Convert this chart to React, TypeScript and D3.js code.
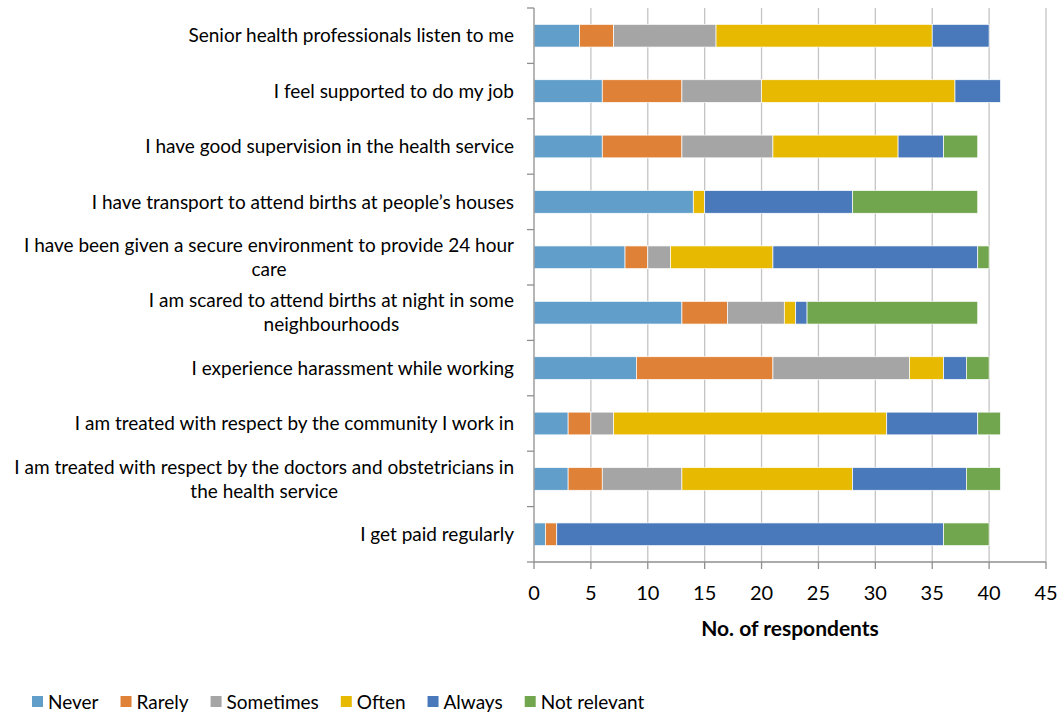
import React, { useEffect, useRef } from "react";
import * as d3 from "d3";

// "\n" marks where the label wraps in the original chart
const categories = [
  "Senior health professionals listen to me",
  "I feel supported to do my job",
  "I have good supervision in the health service",
  "I have transport to attend births at people’s houses",
  "I have been given a secure environment to provide 24 hour\ncare",
  "I am scared to attend births at night in some\nneighbourhoods",
  "I experience harassment while working",
  "I am treated with respect by the community I work in",
  "I am treated with respect by the doctors and obstetricians in\nthe health service",
  "I get paid regularly",
];
const seriesNames = ["Never", "Rarely", "Sometimes", "Often", "Always", "Not relevant"];
const never = [4, 6, 6, 14, 8, 13, 9, 3, 3, 1];
const rarely = [3, 7, 7, 0, 2, 4, 12, 2, 3, 1];
const sometimes = [9, 7, 8, 0, 2, 5, 12, 2, 7, 0];
const often = [19, 17, 11, 1, 9, 1, 3, 24, 15, 0];
const always = [5, 4, 4, 13, 18, 1, 2, 8, 10, 34];
const notRelevant = [0, 0, 3, 11, 1, 15, 2, 2, 3, 4];
const xTicks = [0, 5, 10, 15, 20, 25, 30, 35, 40, 45];
const colors = ["#619ECA", "#DF8237", "#A5A5A5", "#E7B900", "#4979BB", "#72A64E"];
const xTitle = "No. of respondents";

const FONT = "Lato, 'Open Sans', sans-serif";

export default function App() {
  const ref = useRef<SVGSVGElement | null>(null);

  useEffect(() => {
    const svg = d3.select(ref.current);
    svg.selectAll("*").remove();

    const x = d3.scaleLinear().domain([0, 45]).range([534, 1046]);
    const y = d3
      .scaleBand<string>()
      .domain(categories)
      .range([8, 562])
      .paddingInner(0.59)
      .paddingOuter(0.295);

    const values = [never, rarely, sometimes, often, always, notRelevant];
    const rows = categories.map((c, i) => {
      const o: any = { cat: c };
      seriesNames.forEach((s, j) => (o[s] = values[j][i]));
      return o;
    });
    const stacked = d3.stack<any>().keys(seriesNames)(rows);

    const g = svg.append("g");
    g.selectAll("line.grid")
      .data(xTicks.slice(1))
      .join("line")
      .attr("x1", (d) => x(d))
      .attr("x2", (d) => x(d))
      .attr("y1", 8)
      .attr("y2", 562)
      .attr("stroke", "#c4c4c4")
      .attr("stroke-width", 1.3);

    stacked.forEach((layer, j) => {
      g.append("g")
        .selectAll("rect")
        .data(layer)
        .join("rect")
        .attr("x", (d) => x(d[0]))
        .attr("width", (d) => Math.max(0, x(d[1]) - x(d[0])))
        .attr("y", (d) => y(d.data.cat)!)
        .attr("height", y.bandwidth())
        .attr("fill", colors[j])
        .attr("stroke", (d) => (d[1] - d[0] > 0 ? "#ffffff" : "none"))
        .attr("stroke-width", 0.7);
    });

    const axisColor = "#8f8f8f";
    g.append("line")
      .attr("x1", x(0)).attr("x2", x(0))
      .attr("y1", 8).attr("y2", 562)
      .attr("stroke", axisColor).attr("stroke-width", 1.3);
    g.append("line")
      .attr("x1", x(0)).attr("x2", x(45))
      .attr("y1", 562).attr("y2", 562)
      .attr("stroke", axisColor).attr("stroke-width", 1.3);

    const step = y.step();
    const bounds = d3.range(categories.length + 1).map((i) => 8 + i * step);
    g.selectAll("line.ytick")
      .data(bounds)
      .join("line")
      .attr("x1", x(0) - 7).attr("x2", x(0))
      .attr("y1", (d) => d).attr("y2", (d) => d)
      .attr("stroke", axisColor).attr("stroke-width", 1.3);

    g.selectAll("line.xtick")
      .data(xTicks)
      .join("line")
      .attr("x1", (d) => x(d)).attr("x2", (d) => x(d))
      .attr("y1", 562).attr("y2", 569)
      .attr("stroke", axisColor).attr("stroke-width", 1.3);

    g.selectAll("text.xl")
      .data(xTicks)
      .join("text")
      .attr("x", (d) => x(d))
      .attr("y", 600)
      .attr("text-anchor", "middle")
      .attr("font-family", FONT)
      .attr("font-size", 20)
      .attr("fill", "#000")
      .text((d) => String(d));

    g.append("text")
      .attr("x", (x(0) + x(45)) / 2)
      .attr("y", 636)
      .attr("text-anchor", "middle")
      .attr("font-family", FONT)
      .attr("font-size", 21)
      .attr("font-weight", "bold")
      .attr("fill", "#000")
      .text(xTitle);

    const labelRight = 514;
    const lineH = 24;
    categories.forEach((c) => {
      const lines = c.split("\n");
      const t = g.append("text")
        .attr("font-family", FONT)
        .attr("font-size", 19)
        .attr("fill", "#000");
      const meas = t.append("tspan").text(lines[0]);
      const w0 = (meas.node() as SVGTextContentElement).getComputedTextLength();
      meas.remove();
      const cy = y(c)! + y.bandwidth() / 2;
      const cx = labelRight - w0 / 2;
      const n = lines.length;
      lines.forEach((ln, k) => {
        t.append("tspan")
          .attr("x", cx)
          .attr("text-anchor", "middle")
          .attr("y", cy + (k - (n - 1) / 2) * lineH)
          .attr("dy", "0.35em")
          .text(ln);
      });
    });

    let lx = 32;
    const ly = 702;
    seriesNames.forEach((s, j) => {
      g.append("rect")
        .attr("x", lx)
        .attr("y", ly - 6)
        .attr("width", 11)
        .attr("height", 11)
        .attr("fill", colors[j]);
      const t = g.append("text")
        .attr("x", lx + 16)
        .attr("y", ly)
        .attr("dy", "0.35em")
        .attr("font-family", FONT)
        .attr("font-size", 19)
        .attr("fill", "#000")
        .text(s);
      const tw = (t.node() as SVGTextContentElement).getComputedTextLength();
      lx = lx + 16 + tw + 22;
    });
  }, []);

  return (
    <svg
      ref={ref}
      width={1061}
      height={713}
      style={{ position: "absolute", left: 0, top: 0, background: "#fff" }}
    />
  );
}
